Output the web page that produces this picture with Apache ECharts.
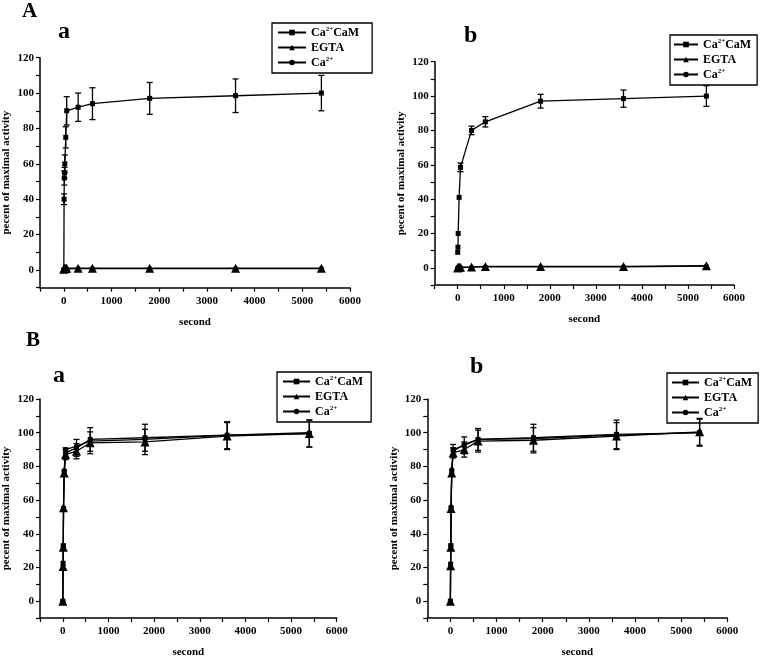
<!DOCTYPE html>
<html>
<head>
<meta charset="utf-8">
<script src="https://cdn.jsdelivr.net/npm/echarts@6/dist/echarts.min.js"></script>
<style>
html,body{margin:0;padding:0;background:#fff;}
#c{width:768px;height:659px;}
</style>
</head>
<body>
<div id="c"></div>
<script>
// ---- data ----
const seriesNames = ['Ca2+CaM', 'EGTA', 'Ca2+'];
const xTickLabels = ['0', '1000', '2000', '3000', '4000', '5000', '6000'];
const yTickLabels = ['0', '20', '40', '60', '80', '100', '120'];

// Panel A-a
const secondsAa = [0, 5, 10, 15, 20, 40, 60, 300, 600, 1800, 3600, 5400];
const caCaMAa = [0, 40, 52, 55, 60, 75, 90, 92, 94, 97, 98.5, 100];
const caCaMAaErr = [0, 3, 4, 3, 5, 6, 8, 8, 9, 9, 9.5, 10];
const egtaAa = [0.5, 0.5, 0.8, 0.8, 1, 1, 1, 1, 1, 1, 1, 1];
const caAa = [0.3, 0.3, 0.5, 0.5, 0.5, 0.6, 0.6, 0.8, 0.8, 0.8, 0.8, 0.8];

// Panel A-b
const secondsAb = [0, 5, 10, 30, 60, 300, 600, 1800, 3600, 5400];
const caCaMAb = [9, 12, 20, 41, 58.5, 80, 85, 97, 98.5, 100];
const caCaMAbErr = [0, 0, 0, 0, 2.5, 2.5, 3, 4, 5, 6];
const egtaAb = [0, 0, 0.2, 0.3, 0.3, 0.5, 0.8, 0.8, 0.8, 1.2];
const caAb = [0, 0, 0, 0.2, 0.3, 0.4, 0.6, 0.6, 0.6, 1];

// Panel B-a
const secondsB = [0, 5, 10, 15, 30, 60, 300, 600, 1800, 3600, 5400];
const caCaMBa = [0, 22.5, 33, 55, 77, 88, 91, 96, 97, 98.5, 99.5];
const caCaMBaErr = [0, 0, 0, 0, 0, 3, 5, 7, 8, 8, 8];
const egtaBa = [0, 20.5, 32, 55.5, 76, 87, 89, 94, 94.5, 98, 99.5];
const egtaBaErr = [0, 0, 0, 0, 0, 3, 4.5, 6.5, 7.5, 8, 8];
const caBa = [0, 21, 33, 55, 77.5, 90, 92, 95, 96, 98.5, 100];

// Panel B-b
const caCaMBb = [0, 22, 33, 55, 77, 90, 92.5, 96, 97, 99, 100];
const caCaMBbErr = [0, 0, 0, 0, 0, 3, 5, 6.5, 8, 8.5, 8];
const egtaBb = [0, 21, 32, 55, 76, 88, 90, 95, 95.5, 98, 100.5];
const egtaBbErr = [0, 0, 0, 0, 0, 3, 4.5, 6.5, 7.5, 8, 8];
const caBb = [0, 20, 33, 56, 78, 89, 93, 96, 96.5, 98.5, 100];

// ---- chart ----
const FONT = '"Liberation Serif", "DejaVu Serif", serif';
const grids = [
  {left: 40, top: 57.7, width: 310, height: 230},
  {left: 434.7, top: 61.7, width: 299.3, height: 223.3},
  {left: 37.7, top: 399, width: 299, height: 223.3},
  {left: 427.3, top: 399, width: 300, height: 222.7}
];
const legendCfg = [
  {left: 272, top: 23, itemWidth: 28, padding: [3, 13, 4, 5]},
  {left: 670, top: 35, itemWidth: 24, padding: [3, 6, 4, 3]},
  {left: 277, top: 372, itemWidth: 27, padding: [3, 8, 4, 5]},
  {left: 667, top: 373, itemWidth: 27, padding: [3, 6, 4, 4]}
];

function xAx(gi) {
  return {
    gridIndex: gi, type: 'value', min: -500, max: 6000, interval: 500,
    axisLine: {show: true, onZero: false, lineStyle: {color: '#000', width: 1.5}},
    axisTick: {show: true, length: 4, lineStyle: {color: '#000', width: 1.2}},
    axisLabel: {
      color: '#000', fontFamily: FONT, fontWeight: 'bold', fontSize: 11, margin: 8,
      formatter: v => (v >= 0 && v % 1000 === 0) ? xTickLabels[v / 1000] : ''
    },
    splitLine: {show: false},
    name: 'second', nameLocation: 'middle', nameGap: 29,
    nameTextStyle: {color: '#000', fontFamily: FONT, fontWeight: 'bold', fontSize: 11}
  };
}
function yAx(gi) {
  return {
    gridIndex: gi, type: 'value', min: -10, max: 120, interval: 10,
    axisLine: {show: true, onZero: false, lineStyle: {color: '#000', width: 1.5}},
    axisTick: {show: true, length: 4, lineStyle: {color: '#000', width: 1.2}},
    axisLabel: {
      color: '#000', fontFamily: FONT, fontWeight: 'bold', fontSize: 11, margin: 6,
      formatter: v => (v >= 0 && v % 20 === 0) ? yTickLabels[v / 20] : ''
    },
    splitLine: {show: false},
    name: 'pecent of maximal activity', nameLocation: 'middle', nameGap: 28,
    nameTextStyle: {color: '#000', fontFamily: FONT, fontWeight: 'bold', fontSize: 11}
  };
}
function lineS(name, sym, size, xs, ys, gi) {
  return {
    type: 'line', name: name, xAxisIndex: gi, yAxisIndex: gi,
    data: xs.map((x, i) => [x, ys[i]]),
    symbol: sym, symbolSize: size, showSymbol: true,
    lineStyle: {color: '#000', width: 1.3},
    itemStyle: {color: '#000', borderWidth: 0},
    animation: false, z: 3
  };
}
function errS(xs, ys, es, gi) {
  return {
    type: 'custom', xAxisIndex: gi, yAxisIndex: gi,
    data: xs.map((x, i) => [x, ys[i], es[i]]),
    encode: {x: 0, y: 1},
    animation: false, silent: true, z: 4,
    renderItem: function (params, api) {
      const x = api.value(0), y = api.value(1), e = api.value(2);
      if (!e) return null;
      const t = api.coord([x, y + e]), b = api.coord([x, y - e]);
      const w = 3;
      const st = {stroke: '#000', lineWidth: 1.3};
      return {type: 'group', children: [
        {type: 'line', shape: {x1: t[0], y1: t[1], x2: b[0], y2: b[1]}, style: st},
        {type: 'line', shape: {x1: t[0] - w, y1: t[1], x2: t[0] + w, y2: t[1]}, style: st},
        {type: 'line', shape: {x1: b[0] - w, y1: b[1], x2: b[0] + w, y2: b[1]}, style: st}
      ]};
    }
  };
}

const series = [];
// A-a
series.push(lineS(seriesNames[0], 'rect', 5, secondsAa, caCaMAa, 0));
series.push(lineS(seriesNames[1], 'triangle', 9, secondsAa, egtaAa, 0));
series.push(lineS(seriesNames[2], 'circle', 5, secondsAa, caAa, 0));
series.push(errS(secondsAa, caCaMAa, caCaMAaErr, 0));
// A-b
series.push(lineS(seriesNames[0], 'rect', 5, secondsAb, caCaMAb, 1));
series.push(lineS(seriesNames[1], 'triangle', 9, secondsAb, egtaAb, 1));
series.push(lineS(seriesNames[2], 'circle', 5, secondsAb, caAb, 1));
series.push(errS(secondsAb, caCaMAb, caCaMAbErr, 1));
// B-a
series.push(lineS(seriesNames[0], 'rect', 5, secondsB, caCaMBa, 2));
series.push(lineS(seriesNames[1], 'triangle', 9, secondsB, egtaBa, 2));
series.push(lineS(seriesNames[2], 'circle', 5, secondsB, caBa, 2));
series.push(errS(secondsB, caCaMBa, caCaMBaErr, 2));
series.push(errS(secondsB, egtaBa, egtaBaErr, 2));
// B-b
series.push(lineS(seriesNames[0], 'rect', 5, secondsB, caCaMBb, 3));
series.push(lineS(seriesNames[1], 'triangle', 9, secondsB, egtaBb, 3));
series.push(lineS(seriesNames[2], 'circle', 5, secondsB, caBb, 3));
series.push(errS(secondsB, caCaMBb, caCaMBbErr, 3));
series.push(errS(secondsB, egtaBb, egtaBbErr, 3));

const legends = legendCfg.map(p => ({
  left: p.left, top: p.top, orient: 'vertical',
  data: seriesNames,
  itemWidth: p.itemWidth, itemHeight: 7, itemGap: 2,
  padding: p.padding,
  borderColor: '#000', borderWidth: 1.3,
  selectedMode: false,
  formatter: name => name === 'Ca2+CaM' ? 'Ca{s|2+}CaM' : (name === 'Ca2+' ? 'Ca{s|2+}' : name),
  textStyle: {
    color: '#000', fontFamily: FONT, fontWeight: 'bold', fontSize: 12, lineHeight: 13,
    rich: {s: {fontSize: 7, fontFamily: FONT, fontWeight: 'bold', color: '#000', verticalAlign: 'top', lineHeight: 13, padding: [0, 0, 6, 0]}}
  }
}));

const tStyle = sz => ({color: '#000', fontFamily: FONT, fontWeight: 'bold', fontSize: sz});
const titles = [
  {text: 'A', left: 22, top: 1, textStyle: tStyle(21), padding: 0},
  {text: 'a', left: 58, top: 20, textStyle: tStyle(24), padding: 0},
  {text: 'b', left: 464, top: 24, textStyle: tStyle(24), padding: 0},
  {text: 'B', left: 26, top: 330, textStyle: tStyle(21), padding: 0},
  {text: 'a', left: 53, top: 364, textStyle: tStyle(24), padding: 0},
  {text: 'b', left: 470, top: 355, textStyle: tStyle(24), padding: 0}
];

const chart = echarts.init(document.getElementById('c'), null, {renderer: 'canvas'});
chart.setOption({
  backgroundColor: '#fff',
  animation: false,
  title: titles,
  legend: legends,
  grid: grids,
  xAxis: [0, 1, 2, 3].map(xAx),
  yAxis: [0, 1, 2, 3].map(yAx),
  series: series
});
</script>
</body>
</html>
